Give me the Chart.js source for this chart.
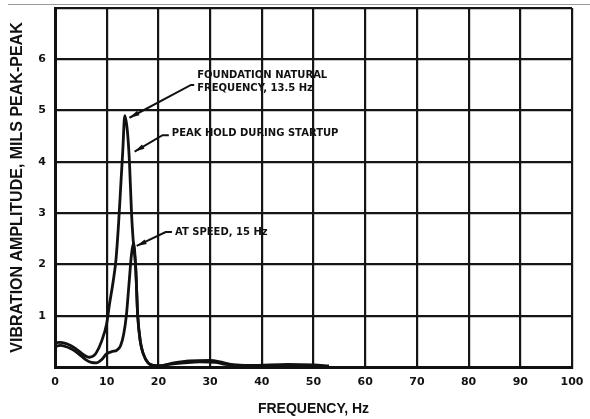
<!DOCTYPE html>
<html>
<head>
<meta charset="utf-8">
<script src="https://cdn.jsdelivr.net/npm/chart.js@4.4.1/dist/chart.umd.min.js"></script>
<style>
  html, body { margin: 0; padding: 0; background: #fff; }
  #wrap { width: 590px; height: 419px; position: relative; }
</style>
</head>
<body>
<div id="wrap"><canvas id="chart" width="590" height="419"></canvas></div>
<script>
// Values (Hz vs. mils peak-peak)
const peakHoldFreq = [0, 1, 2, 3, 4, 5, 6, 6.7, 7.5, 8, 9, 10, 10.5, 11.3, 11.8, 12.3, 12.7, 13.1, 13.5, 14, 14.4, 14.8, 15.1, 15.6, 16, 16.5, 17.1, 18, 19, 20, 23, 26, 30, 32, 34, 38, 45, 50, 53];
const peakHoldAmp  = [0.47, 0.48, 0.46, 0.42, 0.36, 0.28, 0.21, 0.19, 0.22, 0.28, 0.5, 0.85, 1.2, 1.7, 2.1, 2.8, 3.5, 4.2, 4.9, 4.6, 4.0, 3.0, 2.5, 1.95, 1.0, 0.5, 0.25, 0.08, 0.03, 0.02, 0.08, 0.12, 0.13, 0.1, 0.05, 0.03, 0.05, 0.04, 0.02];

const atSpeedFreq = [0, 1, 2, 3, 4, 5, 6, 7, 8, 9, 10, 11, 12, 12.7, 13.3, 13.8, 14.3, 14.8, 15.2, 15.6, 16, 16.5, 17.1, 18, 19, 20, 22, 25, 28, 31, 33, 36, 45, 50, 53];
const atSpeedAmp  = [0.4, 0.42, 0.4, 0.36, 0.3, 0.22, 0.14, 0.09, 0.08, 0.14, 0.26, 0.3, 0.33, 0.42, 0.65, 1.0, 1.6, 2.2, 2.42, 1.95, 1.0, 0.5, 0.25, 0.08, 0.03, 0.02, 0.05, 0.08, 0.1, 0.09, 0.05, 0.03, 0.03, 0.02, 0.01];

const yTickLabels = [1, 2, 3, 4, 5, 6];
const xTickLabels = [0, 10, 20, 30, 40, 50, 60, 70, 80, 90, 100];

function toPoints(xs, ys) {
  return xs.map((x, i) => ({ x: x, y: ys[i] }));
}

// leader lines + notes, anchored in data units
const notes = [
  { lines: ['FOUNDATION NATURAL', 'FREQUENCY, 13.5 Hz'], tip: [14.4, 4.86], elbow: [26.3, 5.5], text: [27.5, 5.69] },
  { lines: ['PEAK HOLD DURING STARTUP'], tip: [15.4, 4.2], elbow: [20.8, 4.52], text: [22.6, 4.56] },
  { lines: ['AT SPEED, 15 Hz'], tip: [15.8, 2.36], elbow: [21.4, 2.63], text: [23.2, 2.63] }
];

const notePlugin = {
  id: 'notes',
  beforeDraw(chart) {
    // faint scan edge above the frame
    const ctx = chart.ctx;
    ctx.save();
    ctx.strokeStyle = '#9a9a9a';
    ctx.lineWidth = 1;
    ctx.beginPath();
    ctx.moveTo(8, chart.chartArea.top - 3.5);
    ctx.lineTo(chart.width, chart.chartArea.top - 3.5);
    ctx.stroke();
    ctx.restore();
  },
  afterDatasetsDraw(chart) {
    const ctx = chart.ctx;
    const xs = chart.scales.x, ys = chart.scales.y;
    ctx.save();
    ctx.strokeStyle = '#111';
    ctx.fillStyle = '#111';
    ctx.lineWidth = 2;
    ctx.font = 'bold 10px "DejaVu Sans"';
    ctx.textBaseline = 'middle';
    notes.forEach(n => {
      const tx = xs.getPixelForValue(n.tip[0]), ty = ys.getPixelForValue(n.tip[1]);
      const ex = xs.getPixelForValue(n.elbow[0]), ey = ys.getPixelForValue(n.elbow[1]);
      const sx = xs.getPixelForValue(n.text[0]) - 3;
      ctx.beginPath();
      ctx.moveTo(tx, ty);
      ctx.lineTo(ex, ey);
      ctx.lineTo(sx, ey);
      ctx.stroke();
      // arrowhead at the curve end
      const a = Math.atan2(ey - ty, ex - tx);
      ctx.beginPath();
      ctx.moveTo(tx, ty);
      ctx.lineTo(tx + 10 * Math.cos(a) - 2.5 * Math.sin(a), ty + 10 * Math.sin(a) + 2.5 * Math.cos(a));
      ctx.lineTo(tx + 10 * Math.cos(a) + 2.5 * Math.sin(a), ty + 10 * Math.sin(a) - 2.5 * Math.cos(a));
      ctx.closePath();
      ctx.fill();
      const lx = xs.getPixelForValue(n.text[0]);
      const ly = ys.getPixelForValue(n.text[1]);
      n.lines.forEach((t, i) => ctx.fillText(t, lx, ly + i * 13));
    });
    ctx.restore();
  }
};

const lineStyle = {
  borderColor: '#111',
  borderWidth: 2.8,
  pointRadius: 0,
  fill: false,
  cubicInterpolationMode: 'monotone'
};

new Chart(document.getElementById('chart'), {
  type: 'line',
  data: {
    datasets: [
      { label: 'Peak hold during startup', data: toPoints(peakHoldFreq, peakHoldAmp), ...lineStyle },
      { label: 'At speed, 15 Hz', data: toPoints(atSpeedFreq, atSpeedAmp), ...lineStyle }
    ]
  },
  options: {
    responsive: false,
    animation: false,
    layout: { padding: { left: 0, top: 8, right: 18, bottom: 0 } },
    plugins: {
      legend: { display: false },
      tooltip: { enabled: false }
    },
    scales: {
      x: {
        type: 'linear',
        min: 0,
        max: 100,
        afterFit: s => { s.height = 52; s.paddingLeft = 0; s.paddingRight = 0; },
        afterBuildTicks: s => { s.ticks = xTickLabels.map(v => ({ value: v })); },
        ticks: {
          color: '#111',
          padding: 9,
          maxRotation: 0,
          font: { family: '"DejaVu Sans"', size: 11, weight: 'bold' }
        },
        grid: { color: '#151515', lineWidth: 2.2, drawTicks: false },
        border: { color: '#111', width: 3 },
        title: {
          display: true,
          text: 'FREQUENCY, Hz',
          color: '#111',
          padding: { top: 0, bottom: 1 },
          font: { family: '"Liberation Sans"', size: 14, weight: 'bold' }
        }
      },
      y: {
        min: 0,
        max: 7,
        afterFit: s => { s.width = 55; s.paddingTop = 0; s.paddingBottom = 0; },
        ticks: {
          stepSize: 1,
          color: '#111',
          padding: 9,
          font: { family: '"DejaVu Sans"', size: 11, weight: 'bold' },
          callback: v => yTickLabels.includes(v) ? String(v) : ''
        },
        grid: { color: '#151515', lineWidth: 2.2, drawTicks: false },
        border: { color: '#111', width: 3 },
        title: {
          display: true,
          text: 'VIBRATION AMPLITUDE, MILS PEAK-PEAK',
          color: '#111',
          padding: { top: 8, bottom: 0 },
          font: { family: '"Liberation Sans"', size: 16, weight: 'bold' }
        }
      }
    }
  },
  plugins: [notePlugin]
});
</script>
</body>
</html>
